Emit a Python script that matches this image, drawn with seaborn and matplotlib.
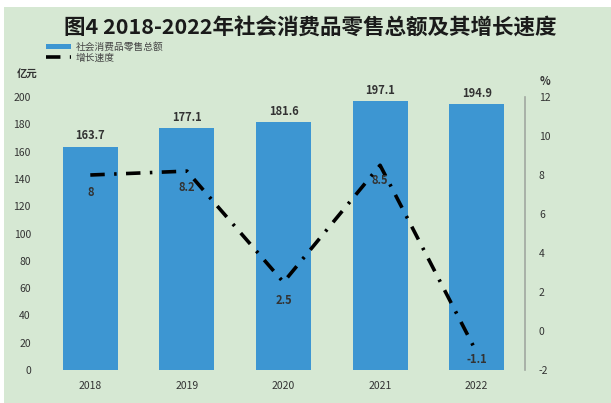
import numpy as np
import pandas as pd
import matplotlib
matplotlib.use('Agg')
import matplotlib.pyplot as plt
import seaborn as sns
from matplotlib.patches import Rectangle

# ======================================
# Data
# ======================================

years = ['2018', '2019', '2020', '2021', '2022']
retail_sales = [163.7, 177.1, 181.6, 197.1, 194.9]   # 亿元
growth_rate = [8, 8.2, 2.5, 8.5, -1.1]               # %
growth_labels = ['8', '8.2', '2.5', '8.5', '-1.1']

df = pd.DataFrame({'year': years, 'sales': retail_sales, 'growth': growth_rate})
df['pos'] = np.arange(len(df))

# ======================================
# Style
# ======================================

sns.set_style('white')
plt.rcParams['font.family'] = ['Noto Sans CJK SC', 'DejaVu Sans']
plt.rcParams['axes.unicode_minus'] = False

bg = '#d6e8d3'
bar_color = '#3d96d2'
text_color = '#333333'

fig = plt.figure(figsize=(6.11, 4.03), dpi=100, facecolor='white')
fig.patches.append(Rectangle((4 / 611, 0), 1, 1 - 7 / 403, transform=fig.transFigure,
                             facecolor=bg, edgecolor='none', zorder=-10))

ax = fig.add_axes([42 / 611, 33 / 403, 483 / 611, 273 / 403])
ax.set_facecolor(bg)
ax.patch.set_alpha(0)

# ======================================
# Bars
# ======================================

sns.barplot(data=df, x='year', y='sales', color=bar_color, width=0.57,
            saturation=1, linewidth=0, ax=ax, label='社会消费品零售总额')
for p, v in zip(ax.patches, df['sales']):
    ax.text(p.get_x() + p.get_width() / 2, v + 3, f'{v:.1f}', ha='center', va='bottom',
            fontsize=8, color=text_color, fontweight='bold')

ax.set_xlim(-0.5, 4.5)
ax.set_ylim(0, 200)
ax.set_yticks(range(0, 201, 20))
ax.set_xlabel('')
ax.set_ylabel('')
ax.tick_params(axis='both', length=0, labelsize=7.5, labelcolor=text_color)
ax.tick_params(axis='x', pad=8)
ax.tick_params(axis='y', pad=8)
for s in ax.spines.values():
    s.set_visible(False)
ax.text(-0.053, 1.08, '亿元', transform=ax.transAxes, fontsize=7.5,
        color=text_color, fontweight='bold', ha='left', va='center')

# ======================================
# Growth line
# ======================================

ax2 = ax.twinx()
sns.lineplot(data=df, x='pos', y='growth', color='black', linewidth=2.6,
             dashes=False, ax=ax2, label='增长速度')
ax2.lines[0].set_dashes((4, 2.6, 0.7, 2.6))
ax2.set_ylim(-2, 12)
ax2.set_yticks(range(-2, 13, 2))
ax2.set_ylabel('')
ax2.set_xlabel('')
ax2.tick_params(axis='y', length=0, labelsize=7.5, labelcolor=text_color, pad=10)
for s in ['top', 'left', 'bottom']:
    ax2.spines[s].set_visible(False)
ax2.spines['right'].set_color('#a0a8a0')
ax2.spines['right'].set_linewidth(1.2)
ax2.text(1.03, 1.055, '%', transform=ax2.transAxes, fontsize=8,
         color=text_color, fontweight='bold', ha='left', va='center')

offsets = [-0.9, -0.85, -0.95, -0.8, -0.35]
for x, y, lab, dy in zip(df['pos'], df['growth'], growth_labels, offsets):
    ax2.text(x, y + dy, lab, ha='center', va='center', fontsize=8,
             color=text_color, fontweight='bold')
if ax2.get_legend():
    ax2.get_legend().remove()
if ax.get_legend():
    ax.get_legend().remove()

# ======================================
# Legend + title
# ======================================

h1, l1 = ax.get_legend_handles_labels()
h2, l2 = ax2.get_legend_handles_labels()
fig.legend(h1 + h2, l1 + l2, loc='upper left', bbox_to_anchor=(42 / 611, 1 - 38 / 403),
           frameon=False, fontsize=7, labelcolor='#444444', handlelength=2.6,
           handleheight=0.5, labelspacing=0.05, borderaxespad=0, handletextpad=0.5)

fig.text(0.507, 1 - 28 / 403, '图4 2018-2022年社会消费品零售总额及其增长速度',
         ha='center', va='center', fontsize=15.5, color='#1a1a1a', fontweight='bold')

plt.savefig('out.png', dpi=100, facecolor=fig.get_facecolor())
